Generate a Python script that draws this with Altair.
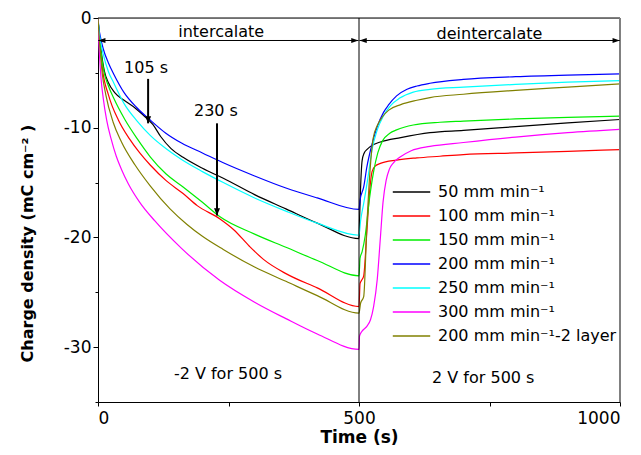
import altair as alt
import pandas as pd

# ---------------- series ----------------
names = ["50 mm min⁻¹", "100 mm min⁻¹", "150 mm min⁻¹", "200 mm min⁻¹",
         "250 mm min⁻¹", "300 mm min⁻¹", "200 mm min⁻¹-2 layer"]
colors = ["#000000", "#ff0000", "#00ee00", "#0000ff", "#00ffff", "#ff00ff", "#808000"]

# time (s) and charge density (mC cm^-2)
t_50 = [0, 2, 5, 12, 20, 32, 50, 71, 90, 105, 120, 140, 163, 200, 240, 300, 360, 420, 500,
        501, 503, 506, 510, 515, 522, 541, 580, 636, 700, 800, 900, 1000]
v_50 = [0, -1.3, -2.6, -4.8, -5.9, -6.8, -7.5, -8.2, -9.0, -9.7, -10.8, -11.9, -12.7, -13.7, -14.6, -16.1, -17.4, -18.7, -20.1,
        -18.5, -15.5, -13.0, -12.3, -12.0, -11.7, -11.3, -10.9, -10.45, -10.25, -9.9, -9.55, -9.25]

t_100 = [0, 2, 5, 9, 20, 39, 60, 80, 100, 130, 163, 190, 233, 260, 290, 317, 360, 420, 500,
         502, 505, 509, 515, 520, 525, 531, 541, 572, 611, 655, 700, 800, 900, 1000]
v_100 = [0, -1.5, -3.0, -4.8, -7.0, -9.3, -11.0, -12.3, -13.4, -14.8, -16.0, -17.1, -18.3, -19.3, -20.8, -22.0, -23.3, -24.6, -26.3,
         -24.2, -23.9, -23.5, -19.5, -16.0, -14.0, -13.5, -13.25, -12.95, -12.75, -12.6, -12.45, -12.3, -12.15, -12.0]

t_150 = [0, 2, 5, 11, 20, 30, 52, 75, 100, 130, 163, 200, 233, 300, 360, 420, 500,
         502, 506, 512, 520, 528, 536, 545, 559, 572, 604, 655, 700, 800, 900, 1000]
v_150 = [0, -1.4, -2.8, -4.8, -6.2, -7.3, -9.3, -11.0, -12.65, -14.2, -15.4, -16.8, -18.1, -19.7, -20.9, -22.1, -23.5,
         -21.9, -21.3, -19.8, -16.5, -14.0, -12.3, -11.2, -10.5, -10.2, -9.75, -9.5, -9.4, -9.2, -9.05, -8.95]

t_200 = [0, 2, 5, 10, 20, 30, 50, 75, 100, 130, 160, 200, 240, 300, 360, 420, 500,
         502, 509, 515, 525, 535, 547, 557, 572, 592, 611, 636, 700, 800, 900, 1000]
v_200 = [0, -1.0, -1.8, -2.8, -4.1, -5.1, -6.8, -8.2, -9.3, -10.5, -11.4, -12.3, -13.2, -14.4, -15.5, -16.4, -17.45,
         -16.6, -15.4, -13.6, -11.5, -9.9, -8.6, -7.9, -7.1, -6.5, -6.2, -5.95, -5.6, -5.35, -5.2, -5.1]

t_250 = [0, 2, 5, 10, 20, 30, 50, 75, 100, 130, 160, 200, 240, 300, 360, 420, 500,
         503, 509, 517, 525, 535, 547, 560, 578, 604, 636, 700, 800, 900, 1000]
v_250 = [0, -1.2, -2.2, -3.3, -4.9, -5.9, -7.8, -9.4, -10.7, -11.9, -12.9, -14.0, -15.0, -16.4, -17.6, -18.7, -19.8,
         -18.5, -16.9, -14.6, -12.0, -10.2, -8.9, -8.0, -7.3, -6.75, -6.5, -6.3, -6.05, -5.85, -5.7]

t_300 = [0, 1, 3, 6, 10, 16.6, 25, 35, 45, 58, 80, 109, 160, 233, 300, 360, 420, 500,
         501, 505, 515, 522, 528, 535, 541, 546, 552, 558, 566, 578, 600, 636, 700, 800, 900, 1000]
v_300 = [0, -1.5, -3.5, -5.6, -7.3, -9.3, -11.0, -12.6, -13.8, -15.1, -16.8, -18.5, -21.0, -23.9, -25.9, -27.4, -28.8, -30.2,
         -29.0, -28.6, -28.1, -27.5, -26.3, -23.8, -20.0, -16.8, -14.8, -13.8, -13.2, -12.7, -12.1, -11.7, -11.35, -10.85, -10.45, -10.15]

t_2l = [0, 2, 4, 8, 15, 29, 45, 71, 100, 138, 170, 200, 240, 300, 360, 420, 500,
        503, 509, 515, 521, 527, 535, 545, 557, 580, 611, 636, 700, 800, 900, 1000]
v_2l = [0, -1.6, -2.8, -5.0, -7.0, -9.5, -11.3, -13.4, -15.3, -17.4, -18.8, -19.9, -21.1, -22.7, -24.0, -25.3, -26.9,
        -26.0, -25.4, -19.0, -14.0, -11.0, -9.8, -9.0, -8.4, -7.9, -7.5, -7.25, -6.95, -6.6, -6.3, -6.0]

series_t = [t_50, t_100, t_150, t_200, t_250, t_300, t_2l]
series_v = [v_50, v_100, v_150, v_200, v_250, v_300, v_2l]

# ---------------- annotations ----------------
ann_text = ["intercalate", "deintercalate", "105 s", "230 s", "-2 V for 500 s", "2 V for 500 s"]
ann_t = [236, 750, 92, 226, 249, 738]
ann_v = [-1.7, -1.9, -5.0, -8.9, -32.9, -33.25]

# horizontal double arrows (phase spans) at y = -2
span_t1 = [0.5, 501]
span_t2 = [499, 999.5]
span_v = [-2.05, -2.05]

# vertical arrows marking 105 s and 230 s
varrow_t = [96, 228]
varrow_top = [-5.55, -9.6]
varrow_tip = [-9.6, -18.0]

FONT = "DejaVu Sans"

rows = []
for name, ts, vs in zip(names, series_t, series_v):
    for t, v in zip(ts, vs):
        rows.append({"series": name, "t": t, "v": v})
df = pd.DataFrame(rows)

xscale = alt.Scale(domain=[0, 1000], nice=False, zero=False)
yscale = alt.Scale(domain=[-35, 0], nice=False, zero=False)

xaxis = alt.Axis(
    values=[0, 250, 500, 750, 1000],
    labelExpr="datum.value % 500 == 0 ? '' + datum.value : ''",
    title="Time (s)", tickSize=4, labelFontSize=17, labelFont=FONT,
    titleFontSize=17, titleFont=FONT, titleFontWeight="bold",
    labelPadding=4, titlePadding=3, domainColor="black", tickColor="black",
    labelColor="black", titleColor="black", grid=False)
yaxis = alt.Axis(
    values=[0, -5, -10, -15, -20, -25, -30, -35],
    labelExpr="datum.value % 10 == 0 ? '' + datum.value : ''",
    title="Charge density (mC cm⁻² )",
    tickSize={"expr": "datum.value % 10 == 0 ? 5 : 3"},
    labelFontSize=17, labelFont=FONT, labelPadding=2,
    titleFontSize=16, titleFont=FONT, titleFontWeight="bold",
    titleAngle=270, titleAlign="center", titleBaseline="middle",
    titleX=-71, titleY=225,
    domainColor="black", tickColor="black", labelColor="black",
    titleColor="black", grid=False)


def X(f="t"):
    return alt.X(f + ":Q", scale=xscale, axis=xaxis)


def Y(f="v"):
    return alt.Y(f + ":Q", scale=yscale, axis=yaxis)


lines = alt.Chart(df).mark_line(strokeWidth=1.2, interpolate="monotone", clip=True).encode(
    x=X(), y=Y(),
    color=alt.Color("series:N", scale=alt.Scale(domain=names, range=colors),
                    sort=names,
                    legend=alt.Legend(orient="none", legendX=294, legendY=162, title=None,
                                      symbolType="stroke", symbolSize=1400,
                                      symbolStrokeWidth=1.3, labelFontSize=16,
                                      labelFont=FONT, labelColor="black", labelLimit=0,
                                      clipHeight=24, rowPadding=0, labelOffset=7,
                                      padding=0)),
    detail="series:N",
)

# frame: top border, right border, divider at 500 s
frame_df = pd.DataFrame({"t": [0, 1000, 500], "t2": [1000, 1000, 500],
                         "v": [0, 0, 0], "v2": [0, -35, -35],
                         "c": ["black", "#808080", "black"], "w": [1, 2, 1]})
frame = alt.Chart(frame_df).mark_rule().encode(
    x=X(), x2="t2:Q", y=Y(), y2="v2:Q",
    color=alt.Color("c:N", scale=None), strokeWidth=alt.StrokeWidth("w:Q", scale=None),
)

span_df = pd.DataFrame({"t": span_t1, "t2": span_t2, "v": span_v})
spans = alt.Chart(span_df).mark_rule(color="black", strokeWidth=1).encode(
    x=X(), x2="t2:Q", y=Y(),
)
left_heads = alt.Chart(pd.DataFrame({"t": span_t1, "v": span_v})).mark_point(
    shape="M0,0L2.4,-0.85L2.4,0.85Z", size=36, filled=True, color="black", opacity=1, strokeWidth=0
).encode(x=X(), y=Y())
right_heads = alt.Chart(pd.DataFrame({"t": span_t2, "v": span_v})).mark_point(
    shape="M0,0L-2.4,-0.85L-2.4,0.85Z", size=36, filled=True, color="black", opacity=1, strokeWidth=0
).encode(x=X(), y=Y())

varrow_df = pd.DataFrame({"t": varrow_t, "v": varrow_top, "v2": varrow_tip})
varrows = alt.Chart(varrow_df).mark_rule(color="black", strokeWidth=2).encode(
    x=X(), y=Y(), y2="v2:Q",
)
vheads = alt.Chart(pd.DataFrame({"t": varrow_t, "v": varrow_tip})).mark_point(
    shape="M0,0L-1,-2.4L1,-2.4Z", size=36, filled=True, color="black", opacity=1, strokeWidth=0
).encode(x=X(), y=Y())

texts = alt.Chart(pd.DataFrame({"txt": ann_text, "t": ann_t, "v": ann_v})).mark_text(
    font=FONT, fontSize=16, color="black", align="center", baseline="alphabetic"
).encode(x=X(), y=Y(), text="txt:N")

chart = alt.layer(lines, frame, spans, left_heads, right_heads, varrows, vheads, texts).properties(
    width=522, height=384,
    autosize=alt.AutoSizeParams(type="none"),
    padding={"left": 90, "top": 10, "right": 13, "bottom": 45},
).configure_view(stroke=None).configure(background="white")

chart.save("out.html", embed_options={"renderer": "svg", "actions": False})
